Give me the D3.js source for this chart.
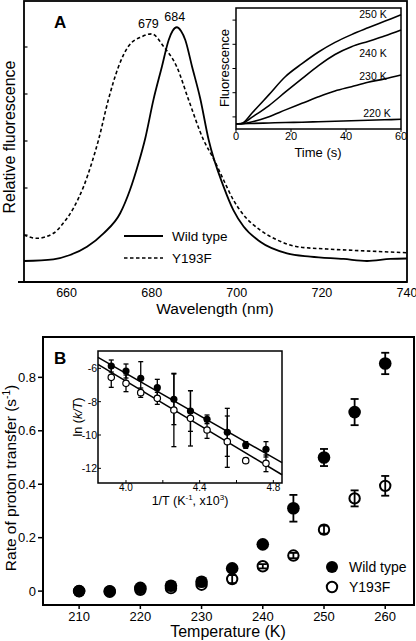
<!DOCTYPE html>
<html><head><meta charset="utf-8">
<script src="https://cdn.jsdelivr.net/npm/d3@7"></script>
<style>
html,body{margin:0;padding:0;background:#fff;}
svg{display:block;font-family:"Liberation Sans",Arial,Helvetica,sans-serif;}
</style></head>
<body>
<svg id="c" width="416" height="641"></svg>
<script>
// ---------- Panel A: emission spectra ----------
const wlWT  = [650.0,656.9,660.8,664.8,668.7,672.6,674.9,676.9,678.5,680.4,682.4,684.0,684.9,685.9,686.9,687.9,689.5,691.4,693.4,696.9,699.2,701.6,705.5,711.8,717.3,725.1,730.6,736.1,740.0];
const fluWT = [0.447,0.483,0.574,0.751,1.036,1.462,1.957,2.526,3.06,3.87,4.58,5.15,5.34,5.42,5.34,5.15,4.58,3.91,3.02,2.03,1.53,1.18,0.857,0.61,0.54,0.49,0.447,0.49,0.50];
const wlY   = [650.0,653.0,656.9,659.2,661.6,664.0,665.9,667.5,669.8,672.2,674.5,677.7,680.0,682.8,685.9,688.7,692.2,694.5,696.9,699.2,701.6,705.5,709.5,714.2,721.2,729.1,740.0];
const fluY  = [1.0,0.93,1.036,1.249,1.568,2.03,2.526,3.02,3.87,4.58,5.01,5.22,5.28,5.01,4.58,3.87,3.02,2.63,2.17,1.745,1.426,1.106,0.894,0.751,0.702,0.666,0.623];
const wlTicks = [660,680,700,720,740];
const fluTicks = [1,2,3,4,5];
const peakLabels = [{wl:679,text:"679"},{wl:684,text:"684"}];
const legendA = ["Wild type","Y193F"];

// ---------- Inset A: time courses ----------
const timeS = [0,2.5,6,12,18,24,30,36,42,48,54,60];
const tempsA = ["250 K","240 K","230 K","220 K"];
const tc250 = [0.22,0.25,0.68,1.42,2.17,2.70,3.18,3.58,3.90,4.18,4.45,4.72];
const tc240 = [0.22,0.24,0.50,0.97,1.53,2.08,2.62,3.08,3.40,3.62,3.84,4.09];
const tc230 = [0.22,0.22,0.30,0.51,0.79,1.06,1.33,1.57,1.75,1.93,2.07,2.23];
const tc220 = [0.22,0.22,0.23,0.25,0.27,0.28,0.30,0.32,0.34,0.36,0.38,0.40];
const timeTicks = [0,20,40,60];
const tcTicks = [0.5,1.5,2.5,3.5,4.5];

// ---------- Panel B: rate vs temperature ----------
const tempK  = [210,215,220,225,230,235,240,245,250,255,260];
const rateWT = [0,-0.002,0.012,0.02,0.035,0.085,0.175,0.31,0.50,0.67,0.852];
const errWT  = [0,0,0,0,0,0,0,0.05,0.032,0.049,0.04];
const rateY  = [0,0,0.005,0.011,0.024,0.045,0.093,0.133,0.23,0.347,0.394];
const errY   = [0,0,0,0,0,0.015,0.008,0.01,0.015,0.03,0.037];
const tempTicks = [210,220,230,240,250,260];
const rateTicks = [0,0.2,0.4,0.6,0.8];
const legendB = ["Wild type","Y193F"];

// ---------- Inset B: Eyring plot ----------
const invT   = [3.92,4.00,4.08,4.17,4.26,4.35,4.44,4.55,4.65,4.76];
const lnWT   = [-5.86,-6.16,-6.60,-7.16,-7.86,-8.56,-9.06,-9.84,-10.60,-10.86];
const lnErrWT= [0.36,0.42,1.0,0.5,1.52,1.22,0.26,1.44,0.2,0.46];
const lnY    = [-6.54,-6.90,-7.46,-7.80,-8.50,-9.00,-9.70,-10.40,-11.54,-11.70];
const lnErrY = [0.6,0.5,0.28,0.36,2.2,1.66,0.5,1.54,0.15,0.5];
const fitWT  = [-6.33,19.02];   // slope, intercept
const fitY   = [-6.63,19.75];
const invTTicks = [4.0,4.2,4.4,4.6,4.8];
const invTLabels = [4.0,4.4,4.8];
const lnTicks = [-12,-10,-8,-6];

const svg = d3.select("#c");

// ===== Panel A =====
const xA = d3.scaleLinear().domain([650,740]).range([24,407]);
const yA = d3.scaleLinear().domain([0,6]).range([282,0]);
const gA = svg.append("g");
gA.append("rect").attr("x",24).attr("y",1).attr("width",383).attr("height",281)
  .attr("fill","none").attr("stroke","#000").attr("stroke-width",1.8);
gA.append("line").attr("x1",18).attr("x2",407).attr("y1",282).attr("y2",282).attr("stroke","#000").attr("stroke-width",1.8);
fluTicks.forEach(v=>{
  gA.append("line").attr("x1",24).attr("x2",27.5).attr("y1",yA(v)).attr("y2",yA(v)).attr("stroke","#000").attr("stroke-width",1.2);
});
wlTicks.forEach(v=>{
  gA.append("text").attr("x",xA(v)).attr("y",297).attr("text-anchor","middle").attr("font-size",12.5).text(v);
});
gA.append("text").attr("x",215).attr("y",314).attr("text-anchor","middle").attr("font-size",15.5).text("Wavelength (nm)");
gA.append("text").attr("transform","translate(15,137) rotate(-90)").attr("text-anchor","middle").attr("font-size",16).text("Relative fluorescence");
gA.append("text").attr("x",54).attr("y",28).attr("font-size",17).attr("font-weight","bold").text("A");

const lineA = d3.line().curve(d3.curveMonotoneX);
gA.append("path").attr("d",lineA(wlY.map((w,i)=>[xA(w),yA(fluY[i])])))
  .attr("fill","none").attr("stroke","#000").attr("stroke-width",1.6).attr("stroke-dasharray","3.5,2.5");
gA.append("path").attr("d",lineA(wlWT.map((w,i)=>[xA(w),yA(fluWT[i])])))
  .attr("fill","none").attr("stroke","#000").attr("stroke-width",1.8);
gA.append("text").attr("x",xA(peakLabels[0].wl)+1).attr("y",28).attr("text-anchor","middle").attr("font-size",12.5).text(peakLabels[0].text);
gA.append("text").attr("x",xA(peakLabels[1].wl)+6).attr("y",21).attr("text-anchor","middle").attr("font-size",12.5).text(peakLabels[1].text);
// legend A
gA.append("line").attr("x1",124).attr("x2",163).attr("y1",236).attr("y2",236).attr("stroke","#000").attr("stroke-width",1.8);
gA.append("line").attr("x1",124).attr("x2",163).attr("y1",258).attr("y2",258).attr("stroke","#000").attr("stroke-width",1.6).attr("stroke-dasharray","3.5,2.5");
gA.append("text").attr("x",172).attr("y",241).attr("font-size",13.5).text(legendA[0]);
gA.append("text").attr("x",172).attr("y",263).attr("font-size",13.5).text(legendA[1]);

// ===== Inset A =====
const xI = d3.scaleLinear().domain([0,60]).range([236,401]);
const yI = d3.scaleLinear().domain([0,5]).range([129,8]);
const gI = svg.append("g");
gI.append("rect").attr("x",236).attr("y",8).attr("width",165).attr("height",121).attr("fill","#fff").attr("stroke","#000").attr("stroke-width",1.5);
tcTicks.forEach(v=>{
  gI.append("line").attr("x1",232.5).attr("x2",236).attr("y1",yI(v)).attr("y2",yI(v)).attr("stroke","#000").attr("stroke-width",1);
});
timeTicks.forEach(v=>{
  gI.append("line").attr("x1",xI(v)).attr("x2",xI(v)).attr("y1",129).attr("y2",132).attr("stroke","#000").attr("stroke-width",1);
  gI.append("text").attr("x",xI(v)).attr("y",140).attr("text-anchor","middle").attr("font-size",11).text(v);
});
gI.append("text").attr("x",318).attr("y",157).attr("text-anchor","middle").attr("font-size",13).text("Time (s)");
gI.append("text").attr("transform","translate(229,68) rotate(-90)").attr("text-anchor","middle").attr("font-size",13).text("Fluorescence");
const tcs = [tc250,tc240,tc230,tc220];
const lineI = d3.line().curve(d3.curveCatmullRom.alpha(0.5));
tcs.forEach(s=>{
  gI.append("path").attr("d",lineI(timeS.map((t,i)=>[xI(t),yI(s[i])])))
    .attr("fill","none").attr("stroke","#000").attr("stroke-width",1.6);
});
const tLab = [[373,18],[373,57],[373,80],[377,117]];
tempsA.forEach((t,i)=>{
  gI.append("text").attr("x",tLab[i][0]).attr("y",tLab[i][1]).attr("text-anchor","middle").attr("font-size",10.5).text(t);
});

// ===== Panel B =====
const xB = d3.scaleLinear().domain([204.1,264.7]).range([43,414]);
const yB = d3.scaleLinear().domain([-0.052,0.951]).range([605,337]);
const gB = svg.append("g");
gB.append("rect").attr("x",43).attr("y",337).attr("width",371).attr("height",268).attr("fill","none").attr("stroke","#000").attr("stroke-width",2);
rateTicks.forEach(v=>{
  gB.append("line").attr("x1",38).attr("x2",43).attr("y1",yB(v)).attr("y2",yB(v)).attr("stroke","#000").attr("stroke-width",1.5);
  gB.append("text").attr("x",36).attr("y",yB(v)+4.5).attr("text-anchor","end").attr("font-size",13).text(v===0?"0":v.toFixed(1));
});
tempTicks.forEach(v=>{
  gB.append("line").attr("x1",xB(v)).attr("x2",xB(v)).attr("y1",605).attr("y2",609).attr("stroke","#000").attr("stroke-width",1.5);
  gB.append("text").attr("x",xB(v)).attr("y",621).attr("text-anchor","middle").attr("font-size",13).text(v);
});
gB.append("text").attr("x",228).attr("y",637).attr("text-anchor","middle").attr("font-size",16).text("Temperature (K)");
const yl = gB.append("text").attr("transform","translate(16,478) rotate(-90)").attr("text-anchor","middle").attr("font-size",15.5);
yl.append("tspan").text("Rate of proton transfer (s");
yl.append("tspan").attr("font-size",10).attr("dy",-6).text("-1");
yl.append("tspan").attr("dy",6).text(")");
gB.append("text").attr("x",54).attr("y",364).attr("font-size",17).attr("font-weight","bold").text("B");

function errBars(g,xs,ys,es,xS,yS,cap,sw){
  xs.forEach((x,i)=>{
    if(!es[i]) return;
    const cx=xS(x), y1=yS(ys[i]-es[i]), y2=yS(ys[i]+es[i]);
    g.append("line").attr("x1",cx).attr("x2",cx).attr("y1",y1).attr("y2",y2).attr("stroke","#000").attr("stroke-width",sw);
    [y1,y2].forEach(yy=>g.append("line").attr("x1",cx-cap).attr("x2",cx+cap).attr("y1",yy).attr("y2",yy).attr("stroke","#000").attr("stroke-width",sw));
  });
}
tempK.forEach((t,i)=>{
  gB.append("circle").attr("cx",xB(t)).attr("cy",yB(rateY[i])).attr("r",5.2).attr("fill","#fff").attr("stroke","#000").attr("stroke-width",2);
});
errBars(gB,tempK,rateY,errY,xB,yB,4,1.8);
tempK.forEach((t,i)=>{
  gB.append("circle").attr("cx",xB(t)).attr("cy",yB(rateWT[i])).attr("r",6.3).attr("fill","#000");
});
errBars(gB,tempK,rateWT,errWT,xB,yB,4,1.8);
gB.append("circle").attr("cx",332).attr("cy",567).attr("r",6).attr("fill","#000");
gB.append("circle").attr("cx",332).attr("cy",587).attr("r",5.2).attr("fill","#fff").attr("stroke","#000").attr("stroke-width",2);
gB.append("text").attr("x",349).attr("y",572).attr("font-size",14).text(legendB[0]);
gB.append("text").attr("x",349).attr("y",592).attr("font-size",14).text(legendB[1]);

// ===== Inset B =====
const xJ = d3.scaleLinear().domain([3.848,4.847]).range([98,282]);
const yJ = d3.scaleLinear().domain([-12.88,-4.96]).range([483,351]);
const gJ = svg.append("g");
gJ.append("rect").attr("x",98).attr("y",351).attr("width",184).attr("height",132).attr("fill","#fff").attr("stroke","#000").attr("stroke-width",1.5);
lnTicks.forEach(v=>{
  gJ.append("line").attr("x1",98).attr("x2",101).attr("y1",yJ(v)).attr("y2",yJ(v)).attr("stroke","#000").attr("stroke-width",1);
  gJ.append("text").attr("x",97).attr("y",yJ(v)+4).attr("text-anchor","end").attr("font-size",10.5).text(v);
});
invTTicks.forEach(v=>{
  gJ.append("line").attr("x1",xJ(v)).attr("x2",xJ(v)).attr("y1",483).attr("y2",480).attr("stroke","#000").attr("stroke-width",1);
});
invTLabels.forEach(v=>{
  gJ.append("text").attr("x",xJ(v)).attr("y",491).attr("text-anchor","middle").attr("font-size",10).text(v.toFixed(1));
});
const xl = gJ.append("text").attr("x",190).attr("y",505).attr("text-anchor","middle").attr("font-size",12.5);
xl.append("tspan").text("1/T (K");
xl.append("tspan").attr("font-size",8).attr("dy",-5).text("-1");
xl.append("tspan").attr("dy",5).text(", x10");
xl.append("tspan").attr("font-size",8).attr("dy",-5).text("3");
xl.append("tspan").attr("dy",5).text(")");
const ll = gJ.append("text").attr("transform","translate(82,417) rotate(-90)").attr("text-anchor","middle").attr("font-size",12.5);
ll.append("tspan").text("ln (");
ll.append("tspan").attr("font-style","italic").text("k/T");
ll.append("tspan").text(")");
[fitWT,fitY].forEach(f=>{
  const d = xJ.domain();
  gJ.append("line").attr("x1",xJ(d[0])).attr("x2",xJ(d[1]))
    .attr("y1",yJ(f[0]*d[0]+f[1])).attr("y2",yJ(f[0]*d[1]+f[1]))
    .attr("stroke","#000").attr("stroke-width",1.5);
});
errBars(gJ,invT,lnY,lnErrY,xJ,yJ,2.5,1.3);
errBars(gJ,invT,lnWT,lnErrWT,xJ,yJ,2.5,1.3);
invT.forEach((x,i)=>{
  gJ.append("circle").attr("cx",xJ(x)).attr("cy",yJ(lnY[i])).attr("r",3.2).attr("fill","#fff").attr("stroke","#000").attr("stroke-width",1.2);
});
invT.forEach((x,i)=>{
  gJ.append("circle").attr("cx",xJ(x)).attr("cy",yJ(lnWT[i])).attr("r",3.6).attr("fill","#000");
});
</script>
</body></html>
